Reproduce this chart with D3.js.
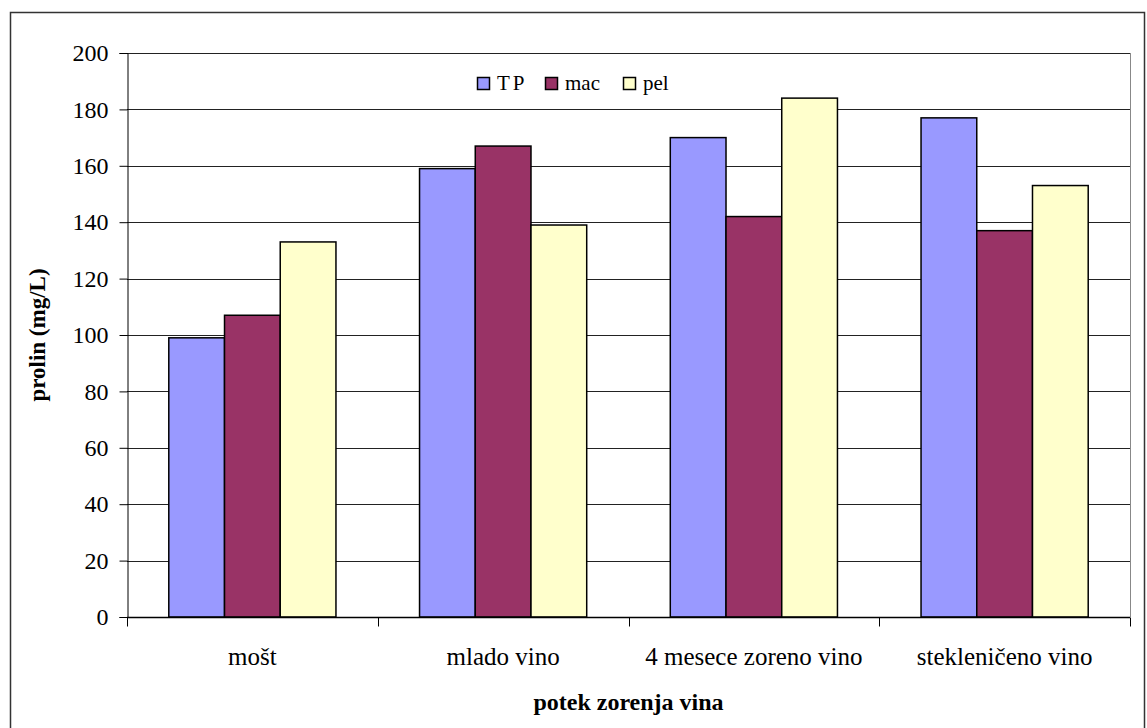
<!DOCTYPE html>
<html><head><meta charset="utf-8"><script src="https://cdn.jsdelivr.net/npm/d3@7"></script></head>
<body style="margin:0">
<svg id="chart" width="1147" height="728"></svg>
<script>
// Proline content through wine maturation, by treatment
const categories = ["mošt", "mlado vino", "4 mesece zoreno vino", "stekleničeno vino"];
const seriesNames = ["TP", "mac", "pel"];
const seriesColors = ["#9999FF", "#993366", "#FFFFCC"];
const tpValues = [99, 159, 170, 177];
const macValues = [107, 167, 142, 137];
const pelValues = [133, 139, 184, 153];
const yTicks = [0, 20, 40, 60, 80, 100, 120, 140, 160, 180, 200];
const yLabel = "prolin (mg/L)";
const xLabel = "potek zorenja vina";

const serif = "'Times New Roman', 'Liberation Serif', Tinos, 'Nimbus Roman', serif";

const seriesValues = [tpValues, macValues, pelValues];
const rows = categories.map((c, i) => ({
  category: c,
  values: seriesNames.map((s, j) => ({ series: s, value: seriesValues[j][i], color: seriesColors[j] }))
}));

const svg = d3.select("#chart");
const plot = { left: 127, right: 1130, top: 53, bottom: 617 };

// outer chart frame
svg.append("rect")
  .attr("x", 10.5).attr("y", 12.5)
  .attr("width", 1134).attr("height", 730)
  .attr("fill", "none").attr("stroke", "#333").attr("stroke-width", 1.5);

const x = d3.scaleBand().domain(categories).range([plot.left, plot.right]).paddingInner(0).paddingOuter(0);
const y = d3.scaleLinear().domain([0, 200]).range([plot.bottom, plot.top]);

// group layout: gap width 150% of a bar
const barW = x.bandwidth() / 4.5;
const xs = d3.scaleBand().domain(seriesNames).range([0.75 * barW, 3.75 * barW]).padding(0);

// horizontal gridlines
svg.append("g")
  .selectAll("line")
  .data(yTicks.filter(t => t > 0))
  .join("line")
  .attr("x1", plot.left).attr("x2", plot.right)
  .attr("y1", d => Math.round(y(d)) + 0.5).attr("y2", d => Math.round(y(d)) + 0.5)
  .attr("stroke", "#222").attr("stroke-width", 1);

// right edge of plot area
svg.append("line")
  .attr("x1", plot.right + 0.5).attr("x2", plot.right + 0.5)
  .attr("y1", plot.top).attr("y2", plot.bottom)
  .attr("stroke", "#888").attr("stroke-width", 1);

// bars
const groups = svg.append("g").selectAll("g")
  .data(rows)
  .join("g")
  .attr("transform", d => `translate(${x(d.category)},0)`);

groups.selectAll("rect")
  .data(d => d.values)
  .join("rect")
  .attr("x", d => xs(d.series))
  .attr("y", d => y(d.value))
  .attr("width", xs.bandwidth())
  .attr("height", d => y(0) - y(d.value))
  .attr("fill", d => d.color)
  .attr("stroke", "#000")
  .attr("stroke-width", 1.5);

// y axis
const yAxis = d3.axisLeft(y).tickValues(yTicks).tickSize(8).tickPadding(11).tickFormat(d3.format("d"));
const gy = svg.append("g").attr("transform", `translate(${plot.left + 0.5},0)`).call(yAxis)
  .attr("font-family", serif);
gy.select(".domain").attr("stroke", "#000").attr("stroke-width", 1);
gy.selectAll(".tick line").attr("stroke", "#000");
gy.selectAll(".tick text")
  .attr("fill", "#000")
  .attr("font-size", 24)
  .attr("font-family", serif)
  .style("font-family", serif);

// x axis with ticks on category boundaries
const gx = svg.append("g").attr("transform", `translate(0,${plot.bottom + 0.5})`);
gx.append("line")
  .attr("x1", plot.left).attr("x2", plot.right)
  .attr("stroke", "#000").attr("stroke-width", 1.5);
const boundaries = categories.map(c => x(c)).concat([plot.right]);
gx.selectAll("line.tk")
  .data(boundaries)
  .join("line")
  .attr("class", "tk")
  .attr("x1", d => Math.round(d) + 0.5).attr("x2", d => Math.round(d) + 0.5)
  .attr("y1", 0).attr("y2", 9)
  .attr("stroke", "#000");
gx.selectAll("text")
  .data(categories)
  .join("text")
  .attr("x", d => x(d) + x.bandwidth() / 2)
  .attr("y", 47)
  .attr("text-anchor", "middle")
  .attr("font-size", 25)
  .attr("font-family", serif)
  .style("font-family", serif)
  .text(d => d);

// axis titles
svg.append("text")
  .attr("transform", `translate(45,${(plot.top + plot.bottom) / 2}) rotate(-90)`)
  .attr("text-anchor", "middle")
  .attr("font-size", 23).attr("font-weight", "bold")
  .attr("font-family", serif)
  .style("font-family", serif)
  .text(yLabel);

svg.append("text")
  .attr("x", (plot.left + plot.right) / 2)
  .attr("y", 710)
  .attr("text-anchor", "middle")
  .attr("font-size", 24).attr("font-weight", "bold")
  .attr("font-family", serif)
  .style("font-family", serif)
  .text(xLabel);

// legend
const legendX = [477, 545, 623];
const legend = svg.append("g").selectAll("g")
  .data(seriesNames)
  .join("g")
  .attr("transform", (d, i) => `translate(${legendX[i]},0)`);
legend.append("rect")
  .attr("x", 0.5).attr("y", 77.5).attr("width", 12).attr("height", 12)
  .attr("fill", (d, i) => seriesColors[i]).attr("stroke", "#000").attr("stroke-width", 1.5);
legend.append("text")
  .attr("x", 20).attr("y", 90)
  .attr("font-size", 21)
  .attr("letter-spacing", (d, i) => i === 0 ? 3 : 0)
  .attr("font-family", serif)
  .style("font-family", serif)
  .text(d => d);
</script>
</body>
</html>
